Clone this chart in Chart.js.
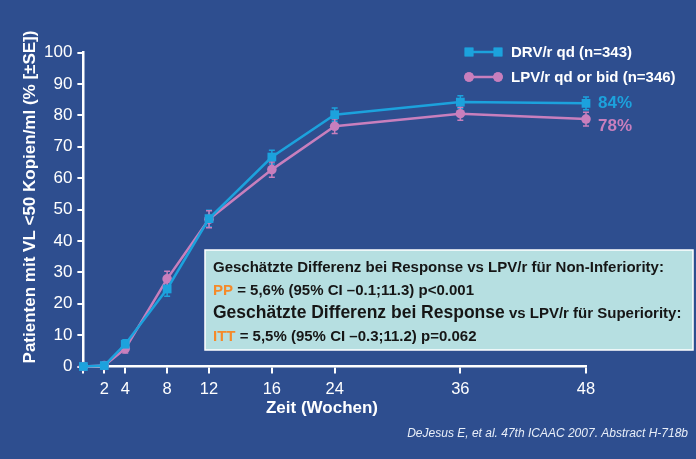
<!DOCTYPE html>
<html>
<head>
<meta charset="utf-8">
<script src="https://cdn.jsdelivr.net/npm/chart.js@4.4.1/dist/chart.umd.min.js"></script>
<style>
html, body { margin: 0; padding: 0; background: #2e4e8f; }
#wrap { width: 696px; height: 459px; position: relative; }
</style>
</head>
<body>
<div id="wrap"><canvas id="chart"></canvas></div>
<script>
// data
var weeks = [0, 2, 4, 8, 12, 16, 24, 36, 48];
var drvValues = [0, 0.3, 7.1, 24.7, 47.1, 66.7, 80.2, 84.2, 83.8];
var drvErr = [0, 0.3, 1.4, 2.3, 2.7, 2.2, 2.1, 2.0, 2.0];
var lpvValues = [0, 0.3, 5.7, 27.9, 46.9, 62.7, 76.5, 80.5, 78.8];
var lpvErr = [0, 0.3, 1.4, 2.4, 2.7, 2.4, 2.3, 2.1, 2.2];
var seriesNames = ["DRV/r qd (n=343)", "LPV/r qd or bid (n=346)"];
var endLabels = ["84%", "78%"];
var xTicks = [0, 2, 4, 8, 12, 16, 24, 36, 48];
var yTicks = [0, 10, 20, 30, 40, 50, 60, 70, 80, 90, 100];
var xTitle = "Zeit (Wochen)";
var yTitle = "Patienten mit VL <50 Kopien/ml (% [±SE])";

var blue = "#1ca2dd";
var pink = "#c87fbd";
var orange = "#f58a2a";
var dark = "#161616";
var fontName = "'Liberation Sans', Arial, sans-serif";

// the week axis of the slide is stretched in pieces, not linear
var axisWeeks = [0, 12, 16, 24, 48];
var axisFrac = [0, 0.25, 0.375, 0.5, 1];

function weekToFrac(w) {
  for (var i = 1; i < axisWeeks.length; i++) {
    if (w <= axisWeeks[i]) {
      var t = (w - axisWeeks[i - 1]) / (axisWeeks[i] - axisWeeks[i - 1]);
      return axisFrac[i - 1] + t * (axisFrac[i] - axisFrac[i - 1]);
    }
  }
  return 1;
}
function fracToWeek(f) {
  for (var i = 1; i < axisFrac.length; i++) {
    if (f <= axisFrac[i]) {
      var t = (f - axisFrac[i - 1]) / (axisFrac[i] - axisFrac[i - 1]);
      return axisWeeks[i - 1] + t * (axisWeeks[i] - axisWeeks[i - 1]);
    }
  }
  return axisWeeks[axisWeeks.length - 1];
}

class WeekScale extends Chart.LinearScale {
  getPixelForValue(v) { return this.getPixelForDecimal(weekToFrac(v)); }
  getValueForPixel(p) { return fracToWeek(this.getDecimalForPixel(p)); }
}
WeekScale.id = "weekscale";
WeekScale.defaults = Chart.LinearScale.defaults;
Chart.register(WeekScale);

Chart.defaults.font.family = fontName;
Chart.defaults.color = "#ffffff";

//error bars
var errorBars = {
  id: "errorBars",
  beforeDatasetsDraw: function (chart) {
    var ctx = chart.ctx;
    var ys = chart.scales.y;
    var errs = [drvErr, lpvErr];
    chart.data.datasets.forEach(function (ds, di) {
      var meta = chart.getDatasetMeta(di);
      ctx.save();
      ctx.strokeStyle = ds.borderColor;
      ctx.lineWidth = 1.5;
      meta.data.forEach(function (pt, i) {
        var e = errs[di][i];
        if (!e) return;
        var top = ys.getPixelForValue(ds.data[i].y + e);
        var bot = ys.getPixelForValue(ds.data[i].y - e);
        ctx.beginPath();
        ctx.moveTo(pt.x, top); ctx.lineTo(pt.x, bot);
        ctx.moveTo(pt.x - 3, top); ctx.lineTo(pt.x + 3, top);
        ctx.moveTo(pt.x - 3, bot); ctx.lineTo(pt.x + 3, bot);
        ctx.stroke();
      });
      ctx.restore();
    });
  }
};

// axis titles, legend, end labels, text box, source
var extras = {
  id: "extras",
  afterDraw: function (chart) {
    var ctx = chart.ctx;
    ctx.save();

    // axis titles
    ctx.fillStyle = "#ffffff";
    ctx.font = "bold 17px " + fontName;
    ctx.textAlign = "center";
    ctx.textBaseline = "middle";
    ctx.fillText(xTitle, 322, 408);
    ctx.save();
    ctx.translate(30, 197);
    ctx.rotate(-Math.PI / 2);
    ctx.fillText(yTitle, 0, 0);
    ctx.restore();

    // legend
    var legendY = [52, 77];
    var styles = ["rect", "circle"];
    var cols = [blue, pink];
    ctx.textAlign = "left";
    for (var i = 0; i < 2; i++) {
      ctx.strokeStyle = cols[i];
      ctx.lineWidth = 2.5;
      ctx.beginPath();
      ctx.moveTo(469, legendY[i]); ctx.lineTo(498, legendY[i]);
      ctx.stroke();
      ctx.fillStyle = cols[i];
      [469, 498].forEach(function (x) {
        Chart.helpers.drawPoint(ctx, { pointStyle: styles[i], radius: i === 0 ? 6.2 : 4.8, borderWidth: 0 }, x, legendY[i]);
        ctx.fill();
      });
      ctx.fillStyle = "#ffffff";
      ctx.font = "bold 15px " + fontName;
      ctx.fillText(seriesNames[i], 511, legendY[i] + 1);
    }

    // end labels
    ctx.font = "bold 17px " + fontName;
    var last = weeks.length - 1;
    var xs = chart.scales.x, ys = chart.scales.y;
    ctx.fillStyle = blue;
    ctx.fillText(endLabels[0], xs.getPixelForValue(weeks[last]) + 12, ys.getPixelForValue(drvValues[last]));
    ctx.fillStyle = pink;
    ctx.fillText(endLabels[1], xs.getPixelForValue(weeks[last]) + 12, ys.getPixelForValue(lpvValues[last]) + 7);

    // box
    ctx.fillStyle = "#b6dfe1";
    ctx.fillRect(205, 250, 488, 100);
    ctx.strokeStyle = "#ffffff";
    ctx.lineWidth = 1.5;
    ctx.strokeRect(205, 250, 488, 100);

    var lines = [
      { y: 272, runs: [["Geschätzte Differenz bei Response vs LPV/r für Non-Inferiority:", 15, dark]] },
      { y: 295, runs: [["PP", 15, orange], [" = 5,6% (95% CI –0.1;11.3) p<0.001", 15, dark]] },
      { y: 318, runs: [["Geschätzte Differenz bei Response", 17.5, dark], [" vs LPV/r für Superiority:", 15, dark]] },
      { y: 341, runs: [["ITT", 15, orange], [" = 5,5% (95% CI –0.3;11.2) p=0.062", 15, dark]] }
    ];
    ctx.textBaseline = "alphabetic";
    lines.forEach(function (ln) {
      var x = 213;
      ln.runs.forEach(function (r) {
        ctx.font = "bold " + r[1] + "px " + fontName;
        ctx.fillStyle = r[2];
        ctx.fillText(r[0], x, ln.y);
        x += ctx.measureText(r[0]).width;
      });
    });

    // source
    ctx.font = "italic 12px " + fontName;
    ctx.fillStyle = "#e8eef8";
    ctx.textAlign = "right";
    ctx.fillText("DeJesus E, et al. 47th ICAAC 2007. Abstract H-718b", 688, 437);
    ctx.restore();
  }
};

new Chart("chart", {
  type: "line",
  data: {
    datasets: [
      {
        label: seriesNames[0],
        data: weeks.map(function (w, i) { return { x: w, y: drvValues[i] }; }),
        borderColor: blue,
        backgroundColor: blue,
        borderWidth: 2.5,
        pointStyle: "rect",
        pointRadius: 6.2,
        pointBorderWidth: 0,
        clip: false
      },
      {
        label: seriesNames[1],
        data: weeks.map(function (w, i) { return { x: w, y: lpvValues[i] }; }),
        borderColor: pink,
        backgroundColor: pink,
        borderWidth: 2.5,
        pointStyle: "circle",
        pointRadius: 4.8,
        pointBorderWidth: 0,
        clip: false
      }
    ]
  },
  options: {
    responsive: true,
    maintainAspectRatio: false,
    animation: false,
    events: [],
    layout: { padding: { left: 39, right: 110, top: 52.5, bottom: 53 } },
    plugins: {
      legend: { display: false },
      tooltip: { enabled: false }
    },
    scales: {
      x: {
        type: "weekscale",
        min: 0,
        max: 48,
        afterBuildTicks: function (s) { s.ticks = xTicks.map(function (v) { return { value: v }; }); },
        border: { display: true, color: "#ffffff", width: 2.5 },
        grid: { drawOnChartArea: false, drawTicks: true, tickLength: 7, color: "#ffffff", lineWidth: 2 },
        ticks: {
          autoSkip: false,
          maxRotation: 0,
          padding: 8,
          font: { size: 16.5, lineHeight: 1 },
          color: "#ffffff",
          callback: function (v) { return v === 0 ? "" : String(v); }
        }
      },
      y: {
        min: 0,
        max: 100,
        afterBuildTicks: function (s) { s.ticks = yTicks.map(function (v) { return { value: v }; }); },
        border: { display: true, color: "#ffffff", width: 2.5 },
        grid: { drawOnChartArea: false, drawTicks: true, tickLength: 6, color: "#ffffff", lineWidth: 2 },
        ticks: { padding: 5, font: { size: 17 }, color: "#ffffff" }
      }
    }
  },
  plugins: [errorBars, extras]
});
</script>
</body>
</html>
